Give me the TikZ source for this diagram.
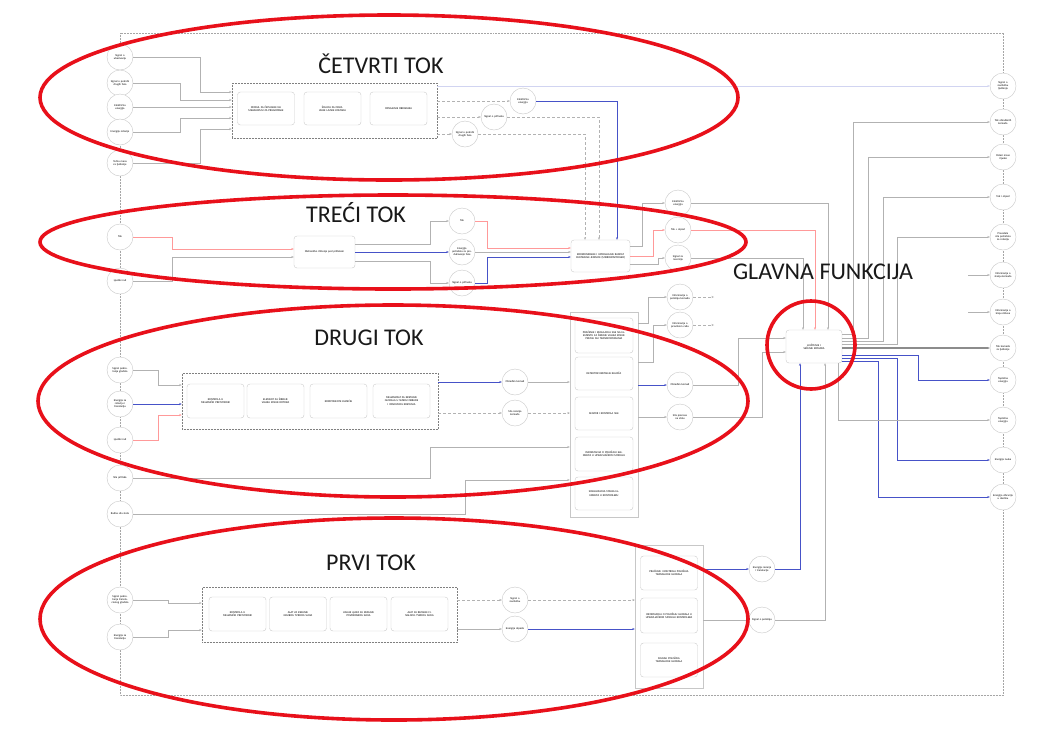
\documentclass[tikz,border=0pt]{standalone}
\usepackage{fontspec}
\setmainfont{Carlito}
\usetikzlibrary{arrows.meta,calc}
\newcommand\tinyf{\fontsize{2.8}{3.2}\selectfont}
\definecolor{lnblue}{HTML}{4652C8}
\definecolor{ring}{HTML}{E8101A}
\begin{document}
\begin{tikzpicture}[x=1pt,y=-1pt,
  cir/.style={circle, draw=black!22, fill=white, minimum size=26pt, inner sep=0pt, align=center, font=\tinyf, text width=20pt},
  rbx/.style={rectangle, rounded corners=3pt, draw=black!20, fill=white, align=center, font=\tinyf, inner sep=1pt, minimum width=57pt, minimum height=34pt, text width=44pt},
  dbx/.style={draw=black!50, densely dotted, line width=0.5pt},
  tallbx/.style={draw=black!22, fill=white, line width=0.4pt, inner sep=0pt},
  ln/.style={draw=black!30, line width=0.4pt, -{Stealth[length=2.5pt,width=2pt]}},
  dln/.style={ln, densely dashed},
  pln/.style={ln, draw=red!40},
  bln/.style={ln, draw=lnblue, line width=0.8pt},
  gln/.style={ln, draw=black!45, line width=1.6pt},
  redring/.style={draw=ring, line width=3.6pt},
  biglab/.style={font=\fontsize{24}{28}\selectfont, text=black!90}
]
\fill[white] (0,0) rectangle (1048,729);
\useasboundingbox (0,0) rectangle (1048,729);

% outer frame
\draw[dbx, draw=black!35] (120,33) rectangle (1003,695);

% ---------- left column ----------
\node[cir] (L1) at (120,57) {Signal o ubacivanju};
\node[cir] (L2) at (120,83) {Signal o potrebi drugih faza};
\node[cir] (L3) at (120,107) {Električna energija};
\node[cir] (L4) at (120,132) {Energija rotacije};
\node[cir] (L5) at (120,163) {Tečna masa za ljuštenje};
\node[cir] (L6) at (120,237) {Tok};
\node[cir] (L7) at (120,281) {Ljudski rad};
\node[cir] (L8) at (120,370) {Signal pokretanja glodala};
\node[cir] (L9) at (120,404) {Energija za rotaciju i translaciju};
\node[cir] (L10) at (120,440) {Ljudski rad};
\node[cir] (L11) at (120,478) {Sila pritiska};
\node[cir] (L12) at (120,514) {Radna sila stola};
\node[cir] (L13) at (120,600) {Signal pokretanja translacionog glodala};
\node[cir] (L14) at (120,637) {Energija za translaciju};

% ---------- right column ----------
\node[cir] (R1) at (1003,86) {Signal o završetku ljuštenja};
\node[cir] (R2) at (1003,122) {Tok obrađenih komada};
\node[cir] (R3) at (1003,157) {Ostaci mase i ljuske};
\node[cir] (R4) at (1003,197) {Tok i otpad};
\node[cir] (R5) at (1003,237) {Preostala sila potrebna za rotaciju};
\node[cir] (R6) at (1003,275) {Informacija o stanju komada};
\node[cir] (R7) at (1003,312) {Informacija o kraju ciklusa};
\node[cir] (R8) at (1003,348) {Tok komada za ljuštenje};
\node[cir] (R9) at (1003,380) {Toplotna energija};
\node[cir] (R10) at (1003,420) {Toplotna energija};
\node[cir] (R11) at (1003,460) {Energija zvuka};
\node[cir] (R12) at (1003,497) {Energija vibracija u okolinu};

% ---------- fourth flow ----------
\node[dbx, minimum width=205pt, minimum height=55pt, inner sep=0pt] (box4) at (334.5,110.5) {};
\node[rbx, minimum height=33pt] (B41) at (266,108.5) {MODUL ZA ČEPLJANJE NA MEHANIZMU ZA PRIHVATANJE};
\node[rbx, minimum height=33pt] (B42) at (332.5,108.5) {ŠOLJICA ZA ODVAJANJE LJUSKE KOMADA};
\node[rbx, minimum height=33pt] (B43) at (398.5,108.5) {ODVAJANJE OBRADAKA};
\node[cir] (C41) at (523,101) {Električna energija};
\node[cir] (C42) at (494,117) {Signal o prihvatu};
\node[cir] (C43) at (465,134) {Signal o potrebi drugih faza};

% ---------- third flow ----------
\node[rbx, minimum width=61pt, minimum height=32pt, text width=50pt] (B3) at (324.5,252) {Mehaničko čišćenje pod pritiskom};
\node[cir] (C31) at (462,221) {Tok};
\node[cir] (C32) at (462,252) {Energija potrebna za produžavanje faze};
\node[cir] (C33) at (462,283) {Signal o prihvatu};
\node[rbx, minimum width=59pt, minimum height=32pt, text width=50pt] (integ) at (600.5,256) {KOORDINIRANJE I UPRAVLJANJE RADOM CENTRALNE JEDINICE (MIKROKONTROLER)};
\node[cir] (C34) at (678,203) {Električna energija};
\node[cir] (C35) at (678,230) {Tok + otpad};
\node[cir] (C36) at (678,258) {Signal za reverziju};

% ---------- second flow ----------
\node[dbx, minimum width=256pt, minimum height=56pt, inner sep=0pt] (box2) at (310,401) {};
\node[rbx] (B21) at (215.5,401) {KONTROLA U MEHANIČKI PRETVORNIK};
\node[rbx] (B22) at (275.5,401) {ELEMENT ZA ŠIRENJE VALJKA ROLNE ROTORA};
\node[rbx] (B23) at (338.5,401) {KOMPONENTE KLIZEĆIH};
\node[rbx] (B24) at (401.5,401) {MEHANIZAM ZA KRETANJE GLODALA U SMERU OBRADE I OSNOVNOG KRETANJA};
\node[cir] (C21) at (515,382) {Obrađen komad};
\node[cir] (C22) at (515,413) {Sila rezanja komada};
\node[tallbx, minimum width=68pt, minimum height=205pt] (T2) at (604,414.5) {};
\node[rbx, minimum width=58pt, minimum height=35pt, text width=50pt] (T21) at (604,335.5) {PRAĆENJE I REGULACIJA SILE NA ELEMENTU ZA ŠIRENJE VALJKA ROLNE PREMA SILI TRANSFORMISANJA};
\node[rbx, minimum width=58pt, minimum height=33pt] (T22) at (604,373.5) {DETEKTOR KRETANJA KLIZAČA};
\node[rbx, minimum width=58pt, minimum height=33pt] (T23) at (604,413.5) {SENZOR I KONTROLA SILE};
\node[rbx, minimum width=58pt, minimum height=34pt] (T24) at (604,454) {INFORMACIJA O POLOŽAJU ELEMENTA U UPRAVLJAČKOM MODULU};
\node[rbx, minimum width=58pt, minimum height=33pt] (T25) at (604,493.5) {SIGNALIZACIJA STANJA ELEMENTA U KONTROLERU};
\node[cir] (C23) at (680,297) {Informacija o položaju komada};
\node[cir] (C24) at (680,325) {Informacija o pravilnom radu};
\node[cir] (C25) at (680,385) {Obrađen komad};
\node[cir] (C26) at (680,417) {Sila prenosa na stolu};

% ---------- main function ----------
\node[rbx, minimum width=56pt, minimum height=33pt, text width=34pt] (M) at (814,346.5) {LJUŠTENJE I SEČENJE KOMADA};

% ---------- first flow ----------
\node[dbx, minimum width=255pt, minimum height=55pt, inner sep=0pt] (box1) at (329.5,614.5) {};
\node[rbx] (B11) at (237.5,614) {KONTROLA U MEHANIČKI PRETVORNIK};
\node[rbx] (B12) at (298,614) {ALAT ZA REZANJE GRUBOG TVRDOG SLOJA};
\node[rbx] (B13) at (358.5,614) {VALJAK ALATA ZA REZANJE POVRŠINSKOG SLOJA};
\node[rbx] (B14) at (419.5,614) {ALAT ZA REZANJE FINALNOG TVRDOG SLOJA};
\node[cir] (C11) at (515,600) {Signal o završetku};
\node[cir] (C12) at (515,629) {Energija otpada};
\node[tallbx, minimum width=68pt, minimum height=143pt] (T1) at (669,616.5) {};
\node[rbx, minimum height=34pt, text width=50pt] (T11) at (669,573) {PRAĆENJE I KONTROLA POLOŽAJA TRANSLACIJE GLODALA};
\node[rbx, minimum height=35pt, text width=50pt] (T12) at (669,615.5) {INFORMACIJA O POLOŽAJU GLODALA U UPRAVLJAČKOM MODULU KONTROLERA};
\node[rbx, minimum height=34pt] (T13) at (669,660) {SIGNALI POLOŽAJA TRANSLACIJE GLODALA};
\node[cir] (C13) at (762,569) {Energija rezanja i translacije};
\node[cir] (C14) at (762,620) {Signal o položaju};

% free ends
\coordinate (c23o) at (714,297);
\coordinate (c24o) at (714,325);
\coordinate (r6in) at (968,275);
\coordinate (r7in) at (968,312);

% ---------- connectors: fourth flow ----------
\draw[ln] (L1) -| (200,92) -- (box4.west |- 0,92);
\draw[ln] (L2) -| (180,100) -- (box4.west |- 0,100);
\draw[ln] (L3) -- (box4.west |- 0,107);
\draw[ln] (L4) -| (180,118) -- (box4.west |- 0,118);
\draw[ln] (L5) -| (200,129) -- (box4.west |- 0,129);
\draw[dln] (box4.east |- 0,101) -- (C41);
\draw[dln] (box4.east |- 0,117) -- (C42);
\draw[dln] (box4.east |- 0,134) -- (C43);
\draw[ln, draw=lnblue!25] (box4.east |- 0,86) -- (R1);
\draw[bln] (C41) -| (integ.north -| 617,0);
\draw[dln] (C42) -| (integ.north -| 599,0);
\draw[dln] (C43) -| (integ.north -| 585,0);

% ---------- connectors: third flow ----------
\draw[pln] (L6) -| (172,249) -- (B3.west |- 0,249);
\draw[ln] (L7) -| (172,257) -- (B3.west |- 0,257);
\draw[ln] (B3.east |- 0,244) -| (430,221) -- (C31);
\draw[bln] (B3.east |- 0,252) -- (C32);
\draw[ln] (B3.east |- 0,261) -| (430,283) -- (C33);
\draw[pln] (C31) -| (487,248) -- (integ.west |- 0,248);
\draw[ln] (C32) -- (integ.west |- 0,252);
\draw[bln] (C33) -| (487,257) -- (integ.west |- 0,257);
\draw[ln] (integ.east |- 0,246) -| (642,203) -- (C34);
\draw[pln] (integ.east |- 0,256) -| (653,230) -- (C35);
\draw[ln] (integ.east |- 0,264) -| (658,258) -- (C36);
\draw[ln] (C34) -| (M.north -| 828,0);
\draw[pln] (C35) -| (M.north -| 815,0);
\draw[ln] (C36) -| (M.north -| 803,0);

% ---------- connectors: second flow ----------
\draw[ln] (L8) -| (158,385) -- (box2.west |- 0,385);
\draw[bln] (L9) -- (box2.west |- 0,404);
\draw[pln] (L10) -| (158,415) -- (box2.west |- 0,415);
\draw[bln] (box2.east |- 0,382) -- (C21);
\draw[dln] (box2.east |- 0,413) -- (C22);
\draw[ln] (C21) -- (T2.west |- 0,382);
\draw[dln] (C22) -- (T2.west |- 0,413);
\draw[ln] (L11) -| (430,447) -- (T2.west |- 0,447);
\draw[ln] (L12) -| (465,480) -- (T2.west |- 0,480);
\draw[ln] (T2.east |- 0,323) -| (648,297) -- (C23);
\draw[ln] (T2.east |- 0,362) -| (653,325) -- (C24);
\draw[dln] (C23) -- (c23o);
\draw[dln] (C24) -- (c24o);
\draw[bln] (T2.east |- 0,385) -- (C25);
\draw[ln] (T2.east |- 0,417) -- (C26);
\draw[ln] (C25) -| (738,338) -- (M.west |- 0,338);
\draw[ln] (C26) -| (762,352) -- (M.west |- 0,352);

% ---------- connectors: first flow ----------
\draw[ln] (L13) -| (168,603) -- (box1.west |- 0,603);
\draw[ln] (L14) -| (168,630) -- (box1.west |- 0,630);
\draw[dln] (box1.east |- 0,600) -- (C11);
\draw[ln] (box1.east |- 0,629) -- (C12);
\draw[dln] (C11) -- (T1.west |- 0,600);
\draw[bln] (C12) -- (T1.west |- 0,629);
\draw[bln] (T1.east |- 0,569) -- (C13);
\draw[ln] (T1.east |- 0,620) -- (C14);
\draw[bln] (C13) -| (M.south -| 800,0);
\draw[ln] (C14) -| (M.south -| 825,0);

% ---------- connectors: main outputs ----------
\draw[ln] (M.east |- 0,334) -| (853,122) -- (R2);
\draw[ln] (M.east |- 0,338) -| (868,157) -- (R3);
\draw[ln] (M.east |- 0,341) -| (883,197) -- (R4);
\draw[ln] (M.east |- 0,344) -| (897,237) -- (R5);
\draw[gln] (M.east |- 0,348) -- (R8);
\draw[bln] (M.east |- 0,355) -| (918,380) -- (R9);
\draw[bln] (M.east |- 0,358) -| (897,460) -- (R11);
\draw[bln] (M.east |- 0,361) -| (878,497) -- (R12);
\draw[ln] (M.south -| 838,0) |- (R10);
\draw[ln] (r6in) -- (R6);
\draw[ln] (r7in) -- (R7);

% ---------- red highlight rings ----------
\draw[redring] (389,97.5) ellipse [x radius=349pt, y radius=82.5pt];
\draw[redring] (393,242) ellipse [x radius=353pt, y radius=47pt];
\draw[redring] (393,401) ellipse [x radius=355pt, y radius=96pt];
\draw[redring] (394,619) ellipse [x radius=354pt, y radius=101pt];
\draw[redring] (811,345) circle [radius=44pt];

% ---------- labels ----------
\node[biglab] (lab4) at (381,64) {ČETVRTI TOK};
\node[biglab] (lab3) at (356,213) {TREĆI TOK};
\node[biglab] (lab2) at (369,338) {DRUGI TOK};
\node[biglab] (lab1) at (371,563) {PRVI TOK};
\node[biglab] (labm) at (823,272) {GLAVNA FUNKCIJA};
\end{tikzpicture}
\end{document}
